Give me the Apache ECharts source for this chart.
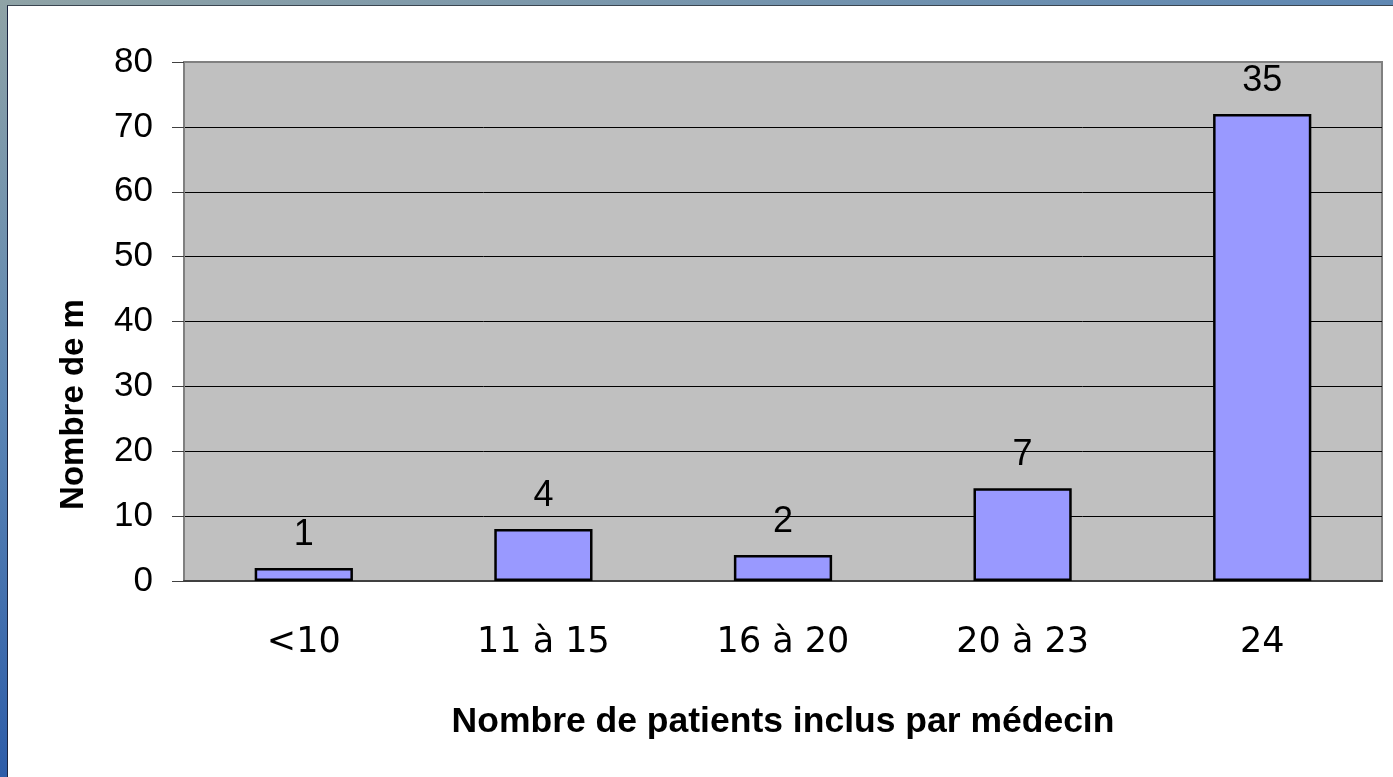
<!DOCTYPE html>
<html>
<head>
<meta charset="utf-8">
<script src="https://cdn.jsdelivr.net/npm/echarts@6/dist/echarts.min.js"></script>
<style>
  html, body { margin: 0; padding: 0; width: 1393px; height: 777px; overflow: hidden; }
  body { background: linear-gradient(165deg, #8fa3a6 0%, #5c86b4 35%, #2a5aa8 70%, #1a3f86 100%); }
  #chart {
    position: absolute; left: 7px; top: 5px; width: 1386px; height: 772px;
    background: #fff; border-left: 1px solid #1a2440; border-top: 1px solid #3a4550;
  }
</style>
</head>
<body>
<div id="chart"></div>
<script>
// catégories (nombre de patients inclus par médecin)
const categories = ['<10', '11 à 15', '16 à 20', '20 à 23', '24']
// hauteur des barres (%)
const percents = [2, 8, 4, 14.3, 72]
// effectifs affichés au-dessus des barres
const counts = [1, 4, 2, 7, 35]
const yTicks = [0, 10, 20, 30, 40, 50, 60, 70, 80]

const chart = echarts.init(document.getElementById('chart'))

chart.setOption({
  animation: false,
  grid: {
    left: 176,
    top: 56,
    right: 12,
    bottom: 197,
    show: true,
    backgroundColor: '#c0c0c0',
    borderColor: '#808080',
    borderWidth: 2
  },
  xAxis: {
    type: 'category',
    data: categories,
    name: 'Nombre de patients inclus par médecin',
    nameLocation: 'middle',
    nameGap: 123,
    nameTextStyle: {
      fontFamily: 'Liberation Sans',
      fontWeight: 'bold',
      fontSize: 35.5,
      color: '#000'
    },
    axisLine: { lineStyle: { color: '#404040', width: 2 } },
    axisTick: { length: 12, lineStyle: { color: '#404040', width: 1 } },
    axisLabel: {
      margin: 44,
      fontFamily: 'DejaVu Sans',
      fontSize: 35,
      lineHeight: 35,
      color: '#000'
    }
  },
  yAxis: {
    type: 'value',
    min: yTicks[0],
    max: yTicks[yTicks.length - 1],
    interval: 10,
    name: 'Nombre de m',
    nameLocation: 'middle',
    nameGap: 94,
    nameRotate: 90,
    nameTextStyle: {
      fontFamily: 'Liberation Sans',
      fontWeight: 'bold',
      fontSize: 33,
      color: '#000',
      padding: [0, 166, 0, 0]
    },
    axisLine: { show: true, lineStyle: { color: '#808080', width: 2 } },
    axisTick: { show: true, length: 12, lineStyle: { color: '#404040', width: 1 } },
    axisLabel: {
      margin: 31,
      fontFamily: 'Liberation Sans',
      fontSize: 35,
      color: '#000'
    },
    splitLine: { showMaxLine: false, lineStyle: { color: '#000', width: 1 } }
  },
  series: [{
    type: 'bar',
    data: percents,
    barWidth: '41%',
    itemStyle: {
      color: '#9999ff',
      borderColor: '#000',
      borderWidth: 2.5
    },
    label: {
      show: true,
      position: 'top',
      distance: 15,
      fontFamily: 'Liberation Sans',
      fontSize: 36,
      color: '#000',
      formatter: p => counts[p.dataIndex]
    }
  }]
})
</script>
</body>
</html>
